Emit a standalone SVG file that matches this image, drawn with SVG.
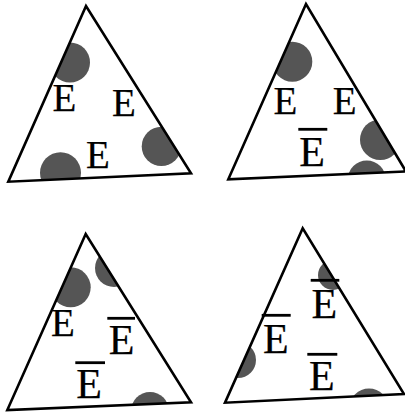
<svg xmlns="http://www.w3.org/2000/svg" width="405" height="412" viewBox="0 0 405 412">
<style>
.tri{fill:none;stroke:#000;stroke-width:2.6;stroke-linejoin:miter}
.dot{fill:#555}
.e{font-family:"Liberation Serif","DejaVu Serif",serif;font-size:39px;fill:#000;stroke:#000;stroke-width:0.25;text-anchor:middle}
.eb{font-size:42px}
.bar{stroke:#000;stroke-width:2.8}
</style>
<defs>
<clipPath id="c1"><polygon points="86,6 8.3,181.7 191,173.3"/></clipPath>
<clipPath id="c2"><polygon points="306,4 228.3,179.3 406,171.5"/></clipPath>
<clipPath id="c3"><polygon points="85.7,234 7.3,410 191,402.3"/></clipPath>
<clipPath id="c4"><polygon points="302.7,228.3 225,402.7 404,394"/></clipPath>
</defs>
<rect width="405" height="412" fill="#fff"/>
<g id="triangle1">
<g clip-path="url(#c1)">
<circle class="dot" cx="70" cy="62.5" r="20"/>
<circle class="dot" cx="161.4" cy="146.4" r="19.7"/>
<circle class="dot" cx="60.5" cy="172.8" r="20.5"/>
</g>
<polygon class="tri" points="86,6 8.3,181.7 191,173.3"/>
<text class="e" x="64.3" y="110.5">E</text>
<text class="e" x="124" y="116">E</text>
<text class="e" x="98" y="168">E</text>
</g>
<g id="triangle2">
<g clip-path="url(#c2)">
<circle class="dot" cx="292.3" cy="61.7" r="20"/>
<circle class="dot" cx="380.3" cy="139.7" r="20.3"/>
<circle class="dot" cx="366.8" cy="179.5" r="19"/>
</g>
<polygon class="tri" points="306,4 228.3,179.3 406,171.5"/>
<text class="e" x="285.3" y="114.3">E</text>
<text class="e" x="344.7" y="114.3">E</text>
<text class="e eb" x="312.2" y="166">E</text>
<line class="bar" x1="298.3" y1="129.3" x2="327.3" y2="129.3"/>
</g>
<g id="triangle3">
<g clip-path="url(#c3)">
<circle class="dot" cx="70.7" cy="287.3" r="20"/>
<circle class="dot" cx="114" cy="268" r="19"/>
<circle class="dot" cx="150" cy="411" r="19"/>
</g>
<polygon class="tri" points="85.7,234 7.3,410 191,402.3"/>
<text class="e" x="62.8" y="336">E</text>
<text class="e eb" x="121.7" y="354">E</text>
<line class="bar" x1="107.3" y1="318.3" x2="135" y2="318.3"/>
<text class="e eb" x="89.2" y="398.3">E</text>
<line class="bar" x1="75.3" y1="362.7" x2="105" y2="362.7"/>
</g>
<g id="triangle4">
<g clip-path="url(#c4)">
<circle class="dot" cx="333" cy="275" r="15"/>
<circle class="dot" cx="238" cy="360" r="18"/>
<circle class="dot" cx="369" cy="408" r="19.6"/>
</g>
<polygon class="tri" points="302.7,228.3 225,402.7 404,394"/>
<text class="e eb" x="275.8" y="352.7">E</text>
<line class="bar" x1="261.7" y1="315.3" x2="290.7" y2="315.3"/>
<text class="e eb" x="324.3" y="318.3">E</text>
<line class="bar" x1="310.7" y1="280.3" x2="339.3" y2="280.3"/>
<text class="e eb" x="321.8" y="390">E</text>
<line class="bar" x1="307.3" y1="354.3" x2="337.3" y2="354.3"/>
</g>
</svg>
